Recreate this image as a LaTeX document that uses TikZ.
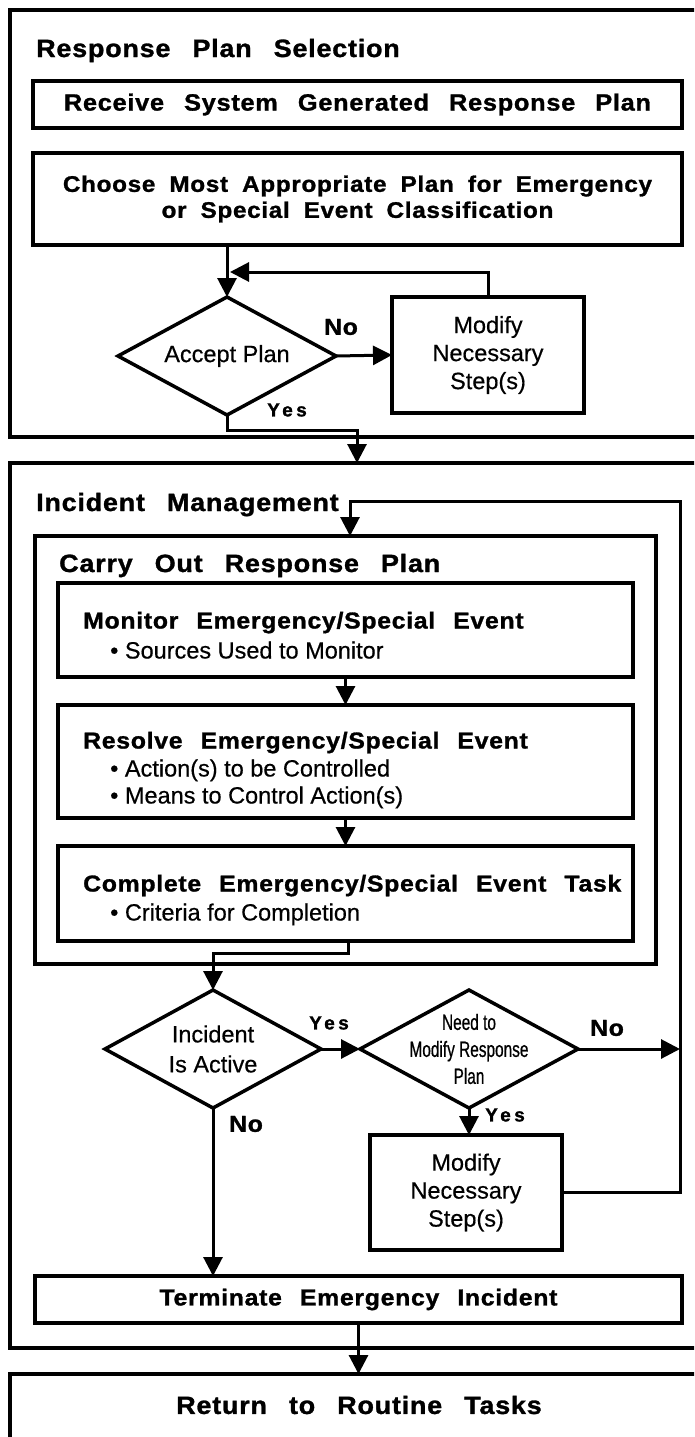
\documentclass[tikz,border=0pt]{standalone}
\usepackage{fontspec}
\usetikzlibrary{arrows.meta,shapes.geometric}
\setmainfont{Liberation Sans}[FakeBold=0.5]
% heavy, slightly extended headings; word gaps are set per use with \spaceskip
\newfontfamily\wideb{Liberation Sans}[LetterSpace=3,FakeStretch=1.08,FakeBold=1.2]
\newfontfamily\condf{Liberation Sans}[FakeStretch=0.7,FakeBold=0.6]
\newfontfamily\yesf{Liberation Sans}[LetterSpace=18,FakeBold=1.2]
\newcommand\ttlfont{\wideb\bfseries\fontsize{25}{30}\selectfont\spaceskip=22pt\relax}
\newcommand\topfont{\wideb\bfseries\fontsize{23.5}{26}\selectfont\spaceskip=20pt\relax}
\newcommand\choosefont{\wideb\bfseries\fontsize{22.5}{26}\selectfont\spaceskip=14pt\relax}
\newcommand\boxfont{\wideb\bfseries\fontsize{23}{26}\selectfont\spaceskip=18pt\relax}
\newcommand\regfont{\fontsize{23.5}{28}\selectfont}
\newcommand\condfont{\condf\fontsize{22}{27}\selectfont}
\newcommand\yesfont{\yesf\bfseries\fontsize{19}{20}\selectfont}
\newcommand\nofont{\wideb\bfseries\fontsize{23}{25}\selectfont}
\tikzset{
  box/.style={draw, line width=3.5pt, rectangle, inner sep=0pt, outer sep=0pt},
  dia/.style={draw, line width=3.5pt, diamond, inner sep=0pt, outer sep=0pt},
  arr/.style={line width=3pt, -{Triangle[length=19pt,width=19pt]}},
  ttl/.style={inner sep=0pt, font=\ttlfont},
  hd/.style={inner sep=0pt, anchor=base west, font=\boxfont},
  txt/.style={inner sep=0pt, font=\regfont, align=center},
  bul/.style={inner sep=0pt, anchor=base west, font=\regfont},
  yeslbl/.style={inner sep=0pt, font=\yesfont},
  nolbl/.style={inner sep=0pt, font=\nofont}
}
\begin{document}
\begin{tikzpicture}[x=1pt, y=-1pt]
\useasboundingbox (0,0) rectangle (694,1437);
\clip (0,0) rectangle (694,1437);

% ---------- Response plan selection ----------
\node[box, minimum width=700, minimum height=427, anchor=north west] (selection) at (10,10) {};
\node[ttl, anchor=base west] (seltitle) at (36,57) {Response Plan Selection};
\node[box, minimum width=649, minimum height=47, font=\topfont] (receive) at (357.5,104.5)
  {Receive System Generated Response Plan};
\node[box, minimum width=649, minimum height=92, font=\choosefont, align=center] (choose) at (357.5,199)
  {Choose Most Appropriate Plan for Emergency\\or Special Event Classification};
\node[dia, minimum width=218, minimum height=118] (accept) at (227,356) {};
\node[txt] (accepttext) at (accept.center) {Accept Plan};
\node[box, minimum width=192, minimum height=116, font=\regfont, align=center] (modifyone) at (488,355)
  {Modify\\Necessary\\Step(s)};
\node[nolbl] (acceptno) at (341,327) {No};
\node[yeslbl] (acceptyes) at (287,410) {Yes};

\coordinate (loopone) at (230,272);
\coordinate (yesbend) at (357,430);
\draw[arr] (choose.south -| accept.north) -- (accept.north);
\draw[arr] (modifyone.north) |- (loopone);
\draw[arr] (accept.east) -- (modifyone.west);

% ---------- Incident management ----------
\node[box, minimum width=700, minimum height=885, anchor=north west] (management) at (10,463) {};
\draw[arr] (accept.south) |- (yesbend) -- (management.north -| yesbend);
\node[ttl, anchor=base west] (mgmttitle) at (36,511) {Incident Management};

\node[box, minimum width=621, minimum height=428, anchor=north west] (carry) at (35,536) {};
\node[ttl, anchor=base west] (carrytitle) at (59,572) {Carry Out Response Plan};

\node[box, minimum width=575, minimum height=94, anchor=north west] (monitor) at (58,583) {};
\node[hd] (monitorhd) at (83,628.5) {Monitor Emergency/Special Event};
\node[bul] (monitorb) at (110,658.5) {• Sources Used to Monitor};

\node[box, minimum width=575, minimum height=113, anchor=north west] (resolve) at (58,705) {};
\node[hd] (resolvehd) at (83,748.5) {Resolve Emergency/Special Event};
\node[bul] (resolveb) at (110,776.5) {• Action(s) to be Controlled};
\node[bul] (resolvec) at (110,803.5) {• Means to Control Action(s)};

\node[box, minimum width=575, minimum height=95, anchor=north west] (complete) at (58,846) {};
\node[hd] (completehd) at (83,891.5) {Complete Emergency/Special Event Task};
\node[bul] (completeb) at (110,920.5) {• Criteria for Completion};

\draw[arr] (monitor.south) -- (resolve.north);
\draw[arr] (resolve.south) -- (complete.north);

\node[dia, minimum width=216, minimum height=118] (incident) at (213,1049) {};
\node[txt, font=\fontsize{23.5}{30}\selectfont] (incidenttext) at (incident.center) {Incident\\Is Active};
\node[dia, minimum width=218, minimum height=118] (need) at (469,1049) {};
\node[txt, font=\condfont] (needtext) at (need.center) {Need to\\Modify Response\\Plan};
\node[box, minimum width=192, minimum height=115, font=\regfont, align=center] (modifytwo) at (466,1192.5)
  {Modify\\Necessary\\Step(s)};
\node[box, minimum width=647, minimum height=47, font=\boxfont] (terminate) at (358.5,1299.5)
  {Terminate Emergency Incident};

\node[yeslbl] (activeyes) at (329,1023) {Yes};
\node[nolbl] (needno) at (607,1028) {No};
\node[yeslbl] (needyes) at (505,1115) {Yes};
\node[nolbl] (activeno) at (246,1124) {No};

\coordinate (cbend) at (348,953);
\coordinate (loopcorner) at (680,501);
\coordinate (loopdrop) at (350,501);
\draw[arr] (complete.south -| cbend) |- (incident.north |- cbend) -- (incident.north);
\draw[arr] (incident.east) -- (need.west);
\draw[arr] (need.east) -- (need.east -| loopcorner);
\draw[arr] (need.south) -- (need.south |- modifytwo.north);
\draw[arr] (modifytwo.east) -| (loopcorner) -- (loopdrop) -- (carry.north -| loopdrop);
\draw[arr] (incident.south) -- (incident.south |- terminate.north);

% ---------- Routine tasks ----------
\node[box, minimum width=700, minimum height=120, anchor=north west] (routine) at (10,1374) {};
\node[ttl] (routinetitle) at (359,1405) {Return to Routine Tasks};
\draw[arr] (terminate.south) -- (terminate.south |- routine.north);
\end{tikzpicture}
\end{document}
